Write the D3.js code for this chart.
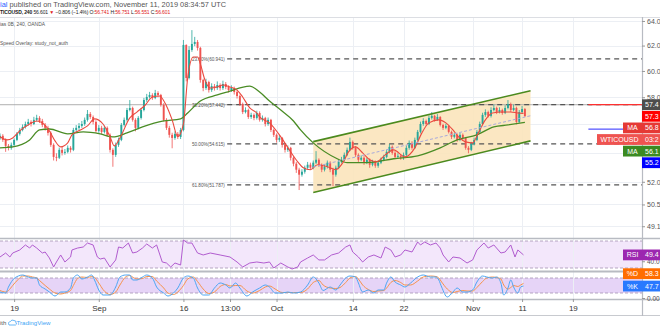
<!DOCTYPE html>
<html><head><meta charset="utf-8">
<script src="https://cdn.jsdelivr.net/npm/d3@7"></script>
<style>
body{margin:0;background:#fff;}
svg{display:block;font-family:"Liberation Sans",Arial,sans-serif;}
</style></head>
<body><svg id="c" width="660" height="330"></svg>
<script>
// ---------------- DATA ----------------
// one candle = two 4-hour bars; bar index is the time unit
const candleStep = 2;
const firstOpen = 55.00;
const closes = [
55.18,54.89,54.47,54.33,54.54,54.89,55.32,55.60,55.82,56.03,
56.18,56.03,56.33,56.47,56.25,55.96,55.75,55.39,54.54,53.70,
53.64,54.19,53.98,54.05,54.33,54.19,55.60,55.75,55.89,56.03,
56.33,56.76,56.54,56.18,55.53,55.75,55.46,55.75,55.25,54.19,
53.84,54.54,54.89,55.96,56.33,57.05,57.20,56.33,55.75,56.47,
57.05,57.79,58.02,58.17,57.94,58.32,58.17,57.42,56.33,55.75,
55.25,55.03,55.32,55.10,55.60,62.05,59.46,61.65,62.13,62.29,
61.81,59.31,58.69,59.15,58.54,58.84,58.69,58.92,58.69,59.00,
58.77,58.54,58.69,58.39,58.09,57.49,56.90,57.05,56.54,56.69,
56.47,56.83,56.33,56.47,56.03,56.33,55.60,55.25,54.89,55.03,
54.54,54.19,54.33,53.64,53.23,52.82,52.48,52.68,52.95,53.16,
52.95,53.30,53.50,53.16,52.82,53.02,53.30,52.82,52.48,52.95,
53.36,53.50,53.84,54.19,54.75,54.33,53.84,53.50,53.64,53.30,
53.50,53.16,53.36,53.09,53.30,53.50,53.70,54.05,54.40,53.98,
53.70,53.77,53.64,53.84,54.33,54.68,54.33,54.89,55.46,56.03,
56.25,56.03,56.47,56.62,56.33,56.54,55.96,55.75,55.89,55.46,
55.11,55.25,54.89,55.25,55.03,54.33,54.19,54.61,54.89,55.46,
56.03,56.69,56.90,56.62,57.05,57.20,56.90,57.05,56.83,57.20,
57.49,57.05,57.20,56.18,56.90,57.12,56.60];
const highs = [
55.35,55.30,55.00,54.60,54.70,55.00,55.45,55.75,56.00,56.20,
56.40,56.30,56.55,56.70,56.60,56.40,56.10,55.90,55.50,54.65,
53.95,54.35,54.40,54.25,54.50,54.45,55.75,55.95,56.10,56.25,
56.50,57.05,56.90,56.65,56.30,55.95,55.90,55.90,55.85,55.35,
54.30,54.70,55.05,56.10,56.50,57.20,57.79,57.30,56.45,56.60,
57.20,57.95,58.25,58.40,58.30,58.55,58.45,58.25,57.55,56.45,
55.90,55.40,55.50,55.45,55.75,62.45,62.10,61.95,63.25,62.70,
62.45,61.90,59.40,59.40,59.25,59.05,59.00,59.20,59.05,59.25,
59.15,58.90,58.90,58.80,58.50,58.20,57.60,57.25,57.15,56.85,
56.80,57.00,56.95,56.65,56.55,56.50,56.40,55.70,55.35,55.25,
55.10,54.65,54.50,54.40,53.75,53.35,52.95,52.85,53.10,53.35,
53.30,53.45,54.10,53.60,53.25,53.20,53.45,53.40,52.95,53.10,
53.50,53.70,54.00,54.35,55.05,54.85,54.45,53.95,53.80,53.75,
53.65,53.60,53.50,53.45,53.45,53.65,53.85,54.20,54.60,54.50,
54.10,53.95,53.90,54.00,54.50,54.85,54.80,55.05,55.60,56.20,
56.45,56.35,56.65,56.90,56.70,56.75,56.60,56.05,56.05,55.95,
55.55,55.40,55.35,55.40,55.35,55.10,54.45,54.75,55.05,55.60,
56.20,56.85,57.10,57.00,57.25,57.45,57.30,57.25,57.15,57.40,
57.79,57.60,57.45,57.30,57.05,57.35,57.20];
const lows = [
54.90,54.75,54.05,54.15,54.20,54.45,54.80,55.20,55.50,55.70,
55.90,55.85,55.95,56.20,56.10,55.80,55.55,55.20,54.40,53.45,
53.40,53.55,53.80,53.85,53.95,54.00,54.10,55.45,55.60,55.75,
55.90,56.20,56.40,56.00,55.40,55.40,55.30,55.35,55.10,54.00,
53.02,53.70,54.40,54.80,55.85,56.20,56.95,56.20,55.50,55.65,
56.35,56.95,57.65,57.90,57.80,57.85,58.00,57.30,56.20,55.60,
55.05,54.30,54.90,54.95,54.95,55.50,59.20,59.35,61.50,61.95,
61.60,59.10,58.45,58.55,58.35,58.40,58.50,58.55,58.50,58.55,
58.60,58.35,58.40,58.20,57.90,57.35,56.75,56.80,56.40,56.40,
56.30,56.35,56.20,56.20,55.85,55.90,55.45,55.10,54.70,54.75,
54.35,54.00,54.05,53.45,53.05,52.60,51.45,52.35,52.55,52.85,
52.80,52.85,53.20,53.00,52.65,52.70,52.90,52.65,51.70,52.35,
52.85,53.25,53.40,53.75,54.10,54.20,53.70,53.35,53.40,53.15,
53.20,52.95,53.05,52.95,52.95,53.20,53.40,53.60,53.95,53.85,
53.55,53.60,53.50,53.50,53.75,54.20,54.20,54.25,54.80,55.35,
55.90,55.90,55.95,56.35,56.20,56.25,55.85,55.60,55.65,55.35,
54.95,55.00,54.75,54.80,54.85,54.20,53.95,54.10,54.50,54.80,
55.35,55.95,56.55,56.50,56.50,56.95,56.75,56.80,56.70,56.75,
57.10,56.90,56.95,56.00,56.10,56.80,56.55];

// fast MA (red)
const maFastBars = [0,5,9,14,21,26,30,35,39,43,48,51,57,62,67,73,78,81,85,92,97,103,108,113,118,122,126,130,133,137,140,142,145,149,154,158,163,168,172,177,182,184,191,199,206,211,215,220,225,232,238,243,247,252,257,262,267,273,279,287,294,299,304,311,316,321,325,330,335,339,344,349,356,362,367,371];
const maFastVals = [55.11,54.89,55.03,55.53,56.03,56.25,56.11,55.53,54.82,54.40,54.68,55.25,55.60,55.89,56.40,56.03,55.11,54.47,55.03,56.47,56.90,57.42,58.02,58.09,57.35,56.33,55.11,56.03,59.46,61.09,61.09,60.55,59.38,58.69,58.77,58.92,58.77,58.54,58.02,57.20,56.83,56.54,56.11,55.11,54.05,53.36,52.95,52.82,53.16,53.02,52.82,53.30,54.05,54.40,53.98,53.50,53.36,53.84,54.19,53.70,54.33,55.39,56.11,56.33,56.11,55.60,55.11,54.75,54.68,55.39,56.33,56.83,56.90,56.90,56.83,56.80];
// slow MA (green)
const maSlowBars = [0,9,21,28,35,48,59,71,80,90,101,116,128,133,142,154,161,177,184,191,199,208,213,222,239,246,260,279,296,312,324,338,350,360,372];
const maSlowVals = [54.33,54.40,54.89,55.60,55.67,55.32,55.46,55.32,55.10,55.39,55.82,56.25,56.40,56.83,57.72,58.17,58.39,58.84,58.39,57.72,57.05,56.25,55.60,54.68,53.57,53.30,53.30,53.57,53.77,54.33,54.89,55.25,55.82,55.96,56.15];

// RSI
const rsiBars = [0,4,7,9,14,18,21,23,26,30,32,35,38,40,43,46,50,51,55,59,62,66,69,71,74,78,82,84,87,91,94,97,101,104,108,111,115,118,121,124,128,130,133,136,140,144,149,156,163,168,172,177,182,187,191,194,199,204,207,211,213,218,222,226,230,235,240,245,248,250,254,257,261,265,270,273,277,280,284,287,292,296,298,301,305,309,312,314,318,321,326,331,335,338,343,346,350,355,358,362,365,367,371];
const rsiVals = [46.3,52.2,46.3,52.2,56.7,64.1,59.6,64.1,59.6,52.2,53.7,44.8,31.5,38.9,49.3,38.9,46.3,56.7,59.6,61.1,67.0,64.1,46.3,43.3,44.8,31.5,41.9,61.1,59.6,67.0,52.2,53.7,59.6,65.6,59.6,64.1,38.9,37.4,31.5,37.4,34.4,71.5,67.0,67.0,52.2,49.3,52.2,49.3,46.3,38.9,31.5,37.4,38.9,37.4,38.9,30.0,37.4,31.5,28.5,31.5,38.9,44.8,49.3,41.9,41.9,49.3,52.2,61.1,64.1,53.7,46.3,38.9,46.3,49.3,44.8,61.1,56.7,46.3,49.3,56.7,53.7,68.5,64.1,68.5,64.1,67.0,59.6,49.3,38.9,46.3,44.8,37.4,41.9,56.7,67.0,59.6,64.1,52.2,53.7,64.1,46.3,56.7,49.4];
const rsiBand = [30, 70];

// Stochastic
const stochBars = [0,4,6,9,13,16,20,23,26,28,32,35,39,43,46,50,52,55,58,62,65,67,70,73,78,82,85,89,92,94,97,101,104,108,111,116,119,123,126,130,133,137,140,144,148,152,156,160,163,167,170,175,179,184,188,191,195,200,204,208,213,218,222,226,229,234,238,241,245,248,252,254,257,261,265,268,272,274,277,280,284,287,291,296,300,305,309,311,313,317,321,324,328,331,335,338,342,345,349,352,355,357,360,362,364,367,369,371];
const kVals = [24,20,44,72,88,92,84,80,80,52,36,24,8,24,24,40,80,92,76,84,92,72,32,12,12,44,84,92,92,72,72,84,92,80,44,20,8,20,40,80,88,80,40,12,12,40,60,52,40,60,40,8,24,40,52,44,20,20,24,20,24,52,84,60,30,44,32,52,80,88,84,60,24,32,20,32,32,60,84,64,52,44,60,84,92,84,84,72,44,4,24,40,24,24,32,64,88,84,80,84,60,12,40,72,44,20,44,47.7];
const dVals = [30,24,30,50,75,88,88,84,80,70,50,36,20,16,20,30,50,78,84,82,86,82,60,34,14,24,52,84,90,84,76,78,86,86,68,40,20,14,24,50,76,84,66,36,18,24,46,54,48,50,50,28,20,30,44,48,36,22,22,22,22,36,62,70,52,40,38,42,62,80,86,76,52,34,26,28,30,40,62,70,62,52,52,68,84,88,86,80,64,36,22,26,30,28,28,42,66,80,84,82,76,52,36,42,50,46,52,58.3];
const stochBand = [20, 80];

// Fibonacci retracement levels
const fibLevels = [60.941, 57.442, 54.615, 51.787];
const fibNames = ["23.60%", "38.20%", "50.00%", "61.80%"];
const fibAnchorBar = 136;
const fibLineStartBar = 161;

// channel drawing [bar, price]
const channelUpper = [[222, 54.77], [376, 58.49]];
const channelLower = [[222, 51.28], [376, 54.82]];
const channelMid   = [[222, 53.00], [376, 56.63]];

// horizontal drawings
const hLinePrice = 57.442;
const rayStartBar = 417;
const redRayPrice = 57.442;
const blueRayPrice = 55.66;

// axes
const gridPrices = [64, 62, 60, 58, 56, 54, 52, 50.5, 49.1];
const priceTicks = [64, 62, 60, 58, 52, 50.5, 49.1];
const timeTickBars = [10, 70, 130, 163, 196, 250, 286, 335, 370, 406];
const timeTickLabels = ["19", "Sep", "16", "13:00", "Oct", "14", "22", "Nov", "11", "19"];

// price-axis tags
const tagValues = [57.442, 57.3, 56.8, 56.601, 56.15, 55.2];
const tagTexts  = ["57.4", "57.3", "56.8", "03:2", "56.1", "55.2"];
const tagNames  = ["", "", "MA", "WTICOUSD", "MA", ""];
const rsiTagValue = 49.4, rsiTagText = "49.4";
const stochTagValues = [58.3, 47.7];
const stochTagTexts = ["58.3", "47.7"];
const stochTagNames = ["%D", "%K"];

// ---------------- STYLE ----------------
const tagColors = ["#4d4d4d", "#ff0000", "#e53935", "#ef5350", "#3b8a22", "#0000ff"];
const stochTagColors = ["#ff6d00", "#2979ff"];
const UP = "#26a69a", DOWN = "#ef5350";

// ---------------- DRAW ----------------
const W = 660, H = 330, AX = 642;
const TOP = 17, MAIN_B = 238, RSI_T = 238, RSI_B = 271, ST_T = 272, ST_B = 299;
const svg = d3.select("#c");
svg.append("rect").attr("width", W).attr("height", H).attr("fill", "#fff");

const x = d3.scaleLinear().domain([0, 455]).range([0, AX]);
const y = d3.scaleLog().domain([64.33, 48.36]).range([TOP, MAIN_B]);
const yR = d3.scaleLinear().domain([30, 70]).range([268, 241]);
const yS = d3.scaleLinear().domain([20, 80]).range([293, 278]);

const defs = svg.append("defs");
defs.append("clipPath").attr("id", "cm").append("rect").attr("x", 0).attr("y", TOP).attr("width", AX).attr("height", MAIN_B - TOP);
defs.append("clipPath").attr("id", "cr").append("rect").attr("x", 0).attr("y", RSI_T).attr("width", AX).attr("height", RSI_B - RSI_T);
defs.append("clipPath").attr("id", "cs").append("rect").attr("x", 0).attr("y", ST_T).attr("width", AX).attr("height", ST_B - ST_T);

// indicator bands
svg.append("rect").attr("x", 0).attr("width", AX).attr("y", yR(rsiBand[1])).attr("height", yR(rsiBand[0]) - yR(rsiBand[1])).attr("fill", "#f3e7fb");
svg.append("rect").attr("x", 0).attr("width", AX).attr("y", yS(stochBand[1])).attr("height", yS(stochBand[0]) - yS(stochBand[1])).attr("fill", "#e6d4f7");

// grid
const grid = svg.append("g").attr("stroke", "#eceff4").attr("stroke-width", 1);
grid.selectAll(".v").data(timeTickBars).join("line").attr("class", "v")
  .attr("x1", d => Math.round(x(d)) + 0.5).attr("x2", d => Math.round(x(d)) + 0.5).attr("y1", TOP).attr("y2", ST_B);
grid.selectAll(".h").data(gridPrices).join("line").attr("class", "h")
  .attr("x1", 0).attr("x2", AX).attr("y1", d => Math.round(y(d)) + 0.5).attr("y2", d => Math.round(y(d)) + 0.5);

// band dashed borders
const bandG = svg.append("g").attr("stroke", "#a393b3").attr("stroke-width", 0.8).attr("stroke-dasharray", "3,2");
rsiBand.forEach(v => bandG.append("line").attr("x1", 0).attr("x2", AX).attr("y1", yR(v)).attr("y2", yR(v)));
stochBand.forEach(v => bandG.append("line").attr("x1", 0).attr("x2", AX).attr("y1", yS(v)).attr("y2", yS(v)));

// main pane
const main = svg.append("g").attr("clip-path", "url(#cm)");

// channel fill
const pt = d => [x(d[0]), y(d[1])];
main.append("path")
  .attr("d", d3.line()([pt(channelUpper[0]), pt(channelUpper[1]), pt(channelLower[1]), pt(channelLower[0])]) + "Z")
  .attr("fill", "#fbe4bb").attr("opacity", 0.9);

// horizontal line
main.append("line").attr("x1", 0).attr("x2", AX).attr("y1", y(hLinePrice)).attr("y2", y(hLinePrice))
  .attr("stroke", "#9a9a9a").attr("stroke-width", 0.8);

// fib lines & labels
fibLevels.forEach((lv, i) => {
  main.append("line").attr("x1", x(fibLineStartBar)).attr("x2", AX).attr("y1", y(lv)).attr("y2", y(lv))
    .attr("stroke", "#555").attr("stroke-width", 1.2).attr("stroke-dasharray", "5,4");
  main.append("text").attr("x", x(fibAnchorBar)).attr("y", y(lv)).attr("dy", "0.35em")
    .attr("font-size", 5.6).attr("fill", "#555").attr("textLength", 33).attr("lengthAdjust", "spacingAndGlyphs")
    .text(fibNames[i] + "(" + lv.toFixed(3) + ")");
});

// candles
const candles = closes.map((c, i) => ({ bar: i * candleStep, o: i ? closes[i - 1] : firstOpen, h: highs[i], l: lows[i], c }));
const cg = main.append("g");
cg.selectAll(".w").data(candles).join("line").attr("class", "w")
  .attr("x1", d => x(d.bar)).attr("x2", d => x(d.bar))
  .attr("y1", d => y(d.h)).attr("y2", d => y(d.l))
  .attr("stroke", d => d.c >= d.o ? UP : DOWN).attr("stroke-width", 0.8);
cg.selectAll(".b").data(candles).join("rect").attr("class", "b")
  .attr("x", d => x(d.bar) - 0.95).attr("width", 1.9)
  .attr("y", d => y(Math.max(d.o, d.c)))
  .attr("height", d => Math.max(0.8, Math.abs(y(d.o) - y(d.c))))
  .attr("fill", d => d.c >= d.o ? UP : DOWN);

// moving averages
const maLine = d3.line().x(d => x(d[0])).y(d => y(d[1])).curve(d3.curveMonotoneX);
main.append("path").attr("d", maLine(maSlowBars.map((b, i) => [b, maSlowVals[i]])))
  .attr("fill", "none").attr("stroke", "#4a8c25").attr("stroke-width", 1.3);
main.append("path").attr("d", maLine(maFastBars.map((b, i) => [b, maFastVals[i]])))
  .attr("fill", "none").attr("stroke", "#ea4a3f").attr("stroke-width", 1.1);

// channel lines
main.append("line").attr("x1", x(channelMid[0][0])).attr("y1", y(channelMid[0][1])).attr("x2", x(channelMid[1][0])).attr("y2", y(channelMid[1][1]))
  .attr("stroke", "#a7a9dc").attr("stroke-width", 1).attr("stroke-dasharray", "3,2");
[channelUpper, channelLower].forEach(c => {
  main.append("line").attr("x1", x(c[0][0])).attr("y1", y(c[0][1])).attr("x2", x(c[1][0])).attr("y2", y(c[1][1]))
    .attr("stroke", "#4b8a1e").attr("stroke-width", 1.6);
});

// rays
main.append("line").attr("x1", x(rayStartBar)).attr("x2", AX).attr("y1", y(redRayPrice)).attr("y2", y(redRayPrice)).attr("stroke", "#ff3030").attr("stroke-width", 1.2);
main.append("line").attr("x1", x(rayStartBar)).attr("x2", AX).attr("y1", y(blueRayPrice)).attr("y2", y(blueRayPrice)).attr("stroke", "#2a2aff").attr("stroke-width", 1);

// RSI
svg.append("g").attr("clip-path", "url(#cr)").append("path")
  .attr("d", d3.line().x(d => x(d[0])).y(d => yR(d[1]))(rsiBars.map((b, i) => [b, rsiVals[i]])))
  .attr("fill", "none").attr("stroke", "#b15ccf").attr("stroke-width", 1);

// Stoch
const sg = svg.append("g").attr("clip-path", "url(#cs)");
const sLine = d3.line().x(d => x(d[0])).y(d => yS(d[1])).curve(d3.curveMonotoneX);
sg.append("path").attr("d", sLine(stochBars.map((b, i) => [b, dVals[i]]))).attr("fill", "none").attr("stroke", "#f7924a").attr("stroke-width", 1);
sg.append("path").attr("d", sLine(stochBars.map((b, i) => [b, kVals[i]]))).attr("fill", "none").attr("stroke", "#4ba6f4").attr("stroke-width", 1);

// separators / frame
const sep = svg.append("g").attr("stroke", "#b8bbc2");
sep.append("line").attr("x1", 0).attr("x2", W).attr("y1", TOP + 0.5).attr("y2", TOP + 0.5).attr("stroke", "#dcdee3");
sep.append("line").attr("x1", 0).attr("x2", W).attr("y1", RSI_T + 0.5).attr("y2", RSI_T + 0.5).attr("stroke-width", 1.5);
sep.append("line").attr("x1", 0).attr("x2", W).attr("y1", 271.5).attr("y2", 271.5).attr("stroke-width", 2);
sep.append("line").attr("x1", 0).attr("x2", W).attr("y1", ST_B + 0.5).attr("y2", ST_B + 0.5).attr("stroke-width", 1.5);
sep.append("line").attr("x1", 0).attr("x2", W).attr("y1", 315.5).attr("y2", 315.5).attr("stroke", "#c8cacf");
sep.append("line").attr("x1", AX + 0.5).attr("x2", AX + 0.5).attr("y1", TOP).attr("y2", 316).attr("stroke-width", 1.2);

// axes
function styleAxis(g, size) {
  g.select(".domain").remove();
  g.selectAll(".tick line").attr("stroke", "#999");
  g.selectAll("text").attr("fill", "#555").attr("font-size", size).attr("font-family", "Liberation Sans, Arial, sans-serif");
}
svg.append("g").attr("transform", `translate(${AX},0)`)
  .call(d3.axisRight(y).tickValues(priceTicks).tickFormat(d3.format(".1f")).tickSize(3).tickPadding(2))
  .call(g => styleAxis(g, 7));
svg.append("g").attr("transform", `translate(${AX},0)`)
  .call(d3.axisRight(yR).tickValues([40]).tickFormat(d3.format(".1f")).tickSize(3).tickPadding(2))
  .call(g => styleAxis(g, 6.5));
svg.append("g").attr("transform", `translate(${AX},0)`)
  .call(d3.axisRight(yS).tickValues([0]).tickFormat(d3.format(".2f")).tickSize(3).tickPadding(2))
  .call(g => styleAxis(g, 6.5));
svg.append("g").attr("transform", `translate(0,${ST_B})`)
  .call(d3.axisBottom(x).tickValues(timeTickBars).tickFormat((d, i) => timeTickLabels[i]).tickSize(3).tickPadding(3))
  .call(g => { styleAxis(g, 8); g.selectAll("text").attr("fill", "#333"); });

// tags
function tag(yy, text, name, color) {
  const g = svg.append("g");
  g.append("rect").attr("x", AX).attr("y", yy - 5.4).attr("width", W - AX).attr("height", 10.8).attr("fill", color);
  g.append("text").attr("x", AX + 3).attr("y", yy).attr("dy", "0.35em").attr("fill", "#fff").attr("font-size", 7).text(text);
  if (name) {
    const w = name.length > 3 ? 45 : 19;
    g.append("rect").attr("x", AX - w).attr("y", yy - 5.4).attr("width", w).attr("height", 10.8).attr("fill", color);
    g.append("text").attr("x", AX - w / 2).attr("y", yy).attr("dy", "0.35em").attr("text-anchor", "middle")
      .attr("fill", "#fff").attr("font-size", 7).text(name);
  }
}
const tagY = tagValues.map(v => y(v));
for (let i = 1; i < tagY.length; i++) if (tagY[i] < tagY[i - 1] + 11.6) tagY[i] = tagY[i - 1] + 11.6;
tagValues.forEach((v, i) => tag(tagY[i], tagTexts[i], tagNames[i], tagColors[i]));
tag(yR(rsiTagValue), rsiTagText, "RSI", "#9c27b0");
const sY = stochTagValues.map(v => yS(v));
for (let i = sY.length - 2; i >= 0; i--) if (sY[i] > sY[i + 1] - 12.4) sY[i] = sY[i + 1] - 12.4;
stochTagValues.forEach((v, i) => tag(sY[i], stochTagTexts[i], stochTagNames[i], stochTagColors[i]));

// header texts
const t1 = svg.append("text").attr("x", 0).attr("y", 6.6).attr("font-size", 7.4);
t1.append("tspan").attr("fill", "#2962ff").text("ial");
t1.append("tspan").attr("fill", "#555").text(" published on TradingView.com, November 11, 2019 08:34:57 UTC");
const t2 = svg.append("text").attr("x", 0).attr("y", 14.2).attr("font-size", 5)
  .attr("letter-spacing", -0.12).attr("fill", "#222");
t2.append("tspan").attr("font-weight", "bold").text("TICOUSD, 240");
t2.append("tspan").text(" 56.601 ");
t2.append("tspan").attr("fill", "#e02020").text("▼");
t2.append("tspan").text(" −0.806 (−1.4%) O:");
t2.append("tspan").attr("fill", "#e02020").text("56.741");
t2.append("tspan").text(" H:");
t2.append("tspan").attr("fill", "#e02020").text("56.751");
t2.append("tspan").text(" L:");
t2.append("tspan").attr("fill", "#e02020").text("56.551");
t2.append("tspan").text(" C:");
t2.append("tspan").attr("fill", "#e02020").text("56.601");
svg.append("text").attr("x", 0).attr("y", 25.5).attr("font-size", 5.6).attr("fill", "#555")
  .attr("textLength", 45).attr("lengthAdjust", "spacingAndGlyphs").text("ias 0B, 240, OANDA");
svg.append("text").attr("x", 0).attr("y", 45).attr("font-size", 5.6).attr("fill", "#555")
  .attr("textLength", 68).attr("lengthAdjust", "spacingAndGlyphs").text("Speed Overlay: study_not_auth");

// footer
svg.append("text").attr("x", 0).attr("y", 325).attr("font-size", 6).attr("fill", "#555").text("ith");
const logo = svg.append("g").attr("fill", "none").attr("stroke", "#42a5f5").attr("stroke-width", 0.8);
logo.append("path").attr("d", "M9,325 q-1.5,-3 1.5,-3.5 q1,-2.5 3.5,-1 q2.5,0 2,2.5 q1.5,1 -0.5,2 z");
svg.append("text").attr("x", 16.5).attr("y", 325).attr("font-size", 6.2).attr("fill", "#42a5f5").text("TradingView");
</script>
</body></html>
